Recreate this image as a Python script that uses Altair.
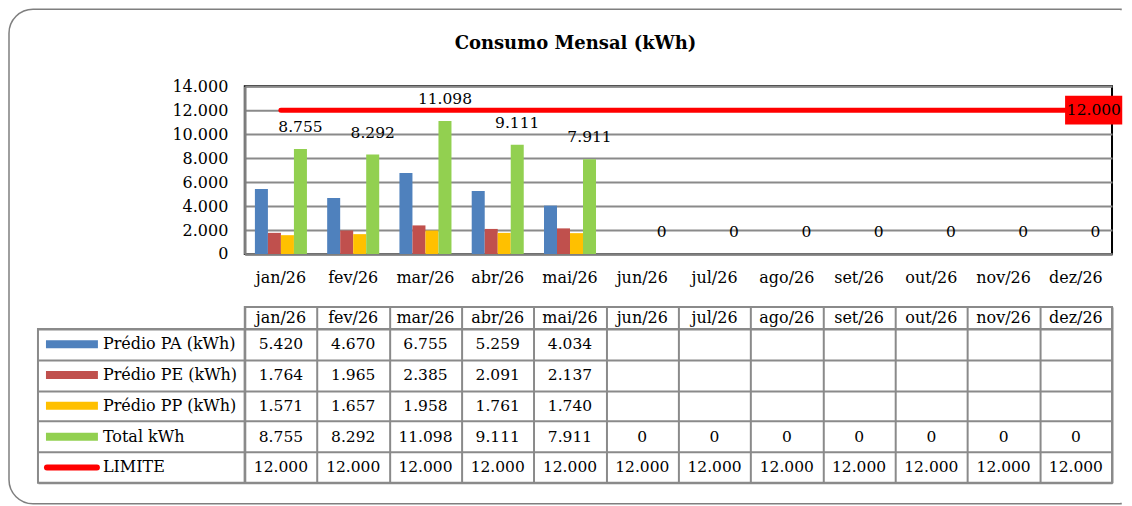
import altair as alt
import pandas as pd

# ---------------- data ----------------
months = ["jan/26", "fev/26", "mar/26", "abr/26", "mai/26", "jun/26",
          "jul/26", "ago/26", "set/26", "out/26", "nov/26", "dez/26"]
predio_pa = [5420, 4670, 6755, 5259, 4034, None, None, None, None, None, None, None]
predio_pe = [1764, 1965, 2385, 2091, 2137, None, None, None, None, None, None, None]
predio_pp = [1571, 1657, 1958, 1761, 1740, None, None, None, None, None, None, None]
total_kwh = [8755, 8292, 11098, 9111, 7911, 0, 0, 0, 0, 0, 0, 0]
limite = [12000, 12000, 12000, 12000, 12000, 12000, 12000, 12000, 12000, 12000, 12000, 12000]
series = ["Prédio PA (kWh)", "Prédio PE (kWh)", "Prédio PP (kWh)", "Total kWh", "LIMITE"]
colors = ["#4F81BD", "#C0504D", "#FFC000", "#92D050", "#FF0000"]
y_ticks = [0, 2000, 4000, 6000, 8000, 10000, 12000, 14000]
title_text = "Consumo Mensal (kWh)"

FONT = "DejaVu Serif"
GRID = "#8a8a8a"
DOMAIN = "#7f7f7f"


def br(v):
    return "" if v is None else f"{v:,}".replace(",", ".")


values_by_series = [predio_pa, predio_pe, predio_pp, total_kwh, limite]
rows = []
for s, vals in zip(series, values_by_series):
    for i, m in enumerate(months):
        rows.append({"mes": m, "serie": s, "valor": vals[i], "rotulo": br(vals[i])})
long_df = pd.DataFrame(rows)

bars_df = long_df[long_df["serie"].isin(series[:4]) & long_df["valor"].notna()]
total_df = long_df[long_df["serie"] == "Total kWh"]
lim_df = long_df[long_df["serie"] == "LIMITE"]
lim_last = lim_df[lim_df["mes"] == months[-1]]
header_df = pd.DataFrame({"mes": months})
legend_df = pd.DataFrame({"serie": series})

# ---------------- chart panel ----------------
W, H = 868, 168
x_chart = alt.X("mes:N",
                scale=alt.Scale(type="band", domain=months, paddingInner=0.28, paddingOuter=0.14),
                axis=alt.Axis(title=None, labelFont=FONT, labelFontSize=16, labelColor="#000000",
                              labelAngle=0, ticks=False, domainColor=DOMAIN, domainWidth=2.5,
                              labelPadding=16, grid=False, labelOverlap=False))
y_chart = alt.Y("valor:Q",
                scale=alt.Scale(domain=[0, 14000], nice=False, zero=True),
                axis=alt.Axis(title=None, values=y_ticks, tickCount=len(y_ticks) + 2,
                              labelOverlap=False,
                              labelExpr="replace(format(datum.value, ','), ',', '.')",
                              labelFont=FONT, labelFontSize=16, labelColor="#000000",
                              ticks=False, labelPadding=17, grid=True, gridColor=GRID,
                              gridWidth=2, domainColor=DOMAIN, domainWidth=2.5))
offset = alt.XOffset("serie:N", sort=series[:4],
                     scale=alt.Scale(domain=series[:4], paddingInner=0, paddingOuter=0))
color = alt.Color("serie:N", scale=alt.Scale(domain=series, range=colors), legend=None)

bars = alt.Chart(bars_df).mark_bar().encode(x=x_chart, xOffset=offset, y=y_chart, color=color)
tot_labels = alt.Chart(total_df).mark_text(dy=-22, font=FONT, fontSize=15.5, color="#000000").encode(
    x=alt.X("mes:N"), xOffset=offset, y=alt.Y("valor:Q"), text="rotulo:N")
lim_line = alt.Chart(lim_df).mark_line(color="#FF0000", strokeWidth=5, strokeCap="round").encode(
    x=alt.X("mes:N"), y=alt.Y("valor:Q"))
box_path = "M-0.745,-1L3.2,-1L3.2,1L-0.745,1Z"
lim_box = alt.Chart(lim_last).mark_point(shape=box_path, size=841, filled=True, color="#FF0000",
                                         opacity=1, strokeWidth=0).encode(
    x=alt.X("mes:N"), y=alt.Y("valor:Q"))
lim_text = alt.Chart(lim_last).mark_text(dx=18, font=FONT, fontSize=15.5, color="#000000").encode(
    x=alt.X("mes:N"), y=alt.Y("valor:Q"), text="rotulo:N")

chart = alt.layer(bars, lim_line, tot_labels, lim_box, lim_text).properties(
    width=W, height=H,
    title=alt.TitleParams(title_text, font=FONT, fontSize=18, fontWeight="bold", color="#000000",
                          anchor="middle", frame="group", dx=-103, offset=25),
    view=alt.ViewBackground(stroke="#000000", strokeWidth=2))

# ---------------- table ----------------
x_tab = alt.X("mes:N",
              scale=alt.Scale(type="band", domain=months, paddingInner=0, paddingOuter=0),
              axis=alt.Axis(title=None, labels=False, ticks=False, domain=False, grid=True,
                            tickBand="extent", gridColor=GRID, gridWidth=2))
y_tab = alt.Y("serie:N",
              scale=alt.Scale(type="band", domain=series, paddingInner=0, paddingOuter=0),
              axis=alt.Axis(title=None, labels=False, ticks=False, domain=False, grid=True,
                            tickBand="extent", gridColor=GRID, gridWidth=2))
cell_view = alt.ViewBackground(stroke=GRID, strokeWidth=2)
no_view = alt.ViewBackground(strokeOpacity=0)

header = alt.Chart(header_df).mark_text(font=FONT, fontSize=16, color="#000000").encode(
    x=x_tab, text="mes:N").properties(width=W, height=22, view=cell_view)

body = alt.Chart(long_df).mark_text(font=FONT, fontSize=15.5, color="#000000").encode(
    x=x_tab, y=y_tab, text="rotulo:N").properties(width=W, height=154, view=cell_view)

swatches = alt.Chart(legend_df[legend_df["serie"] != "LIMITE"]).mark_rule(
    strokeWidth=8, strokeCap="butt").encode(x=alt.value(8), x2=alt.value(60), y=y_tab, color=color)
lim_swatch = alt.Chart(legend_df[legend_df["serie"] == "LIMITE"]).mark_rule(
    strokeWidth=6, strokeCap="round").encode(x=alt.value(9), x2=alt.value(59), y=y_tab, color=color)
row_names = alt.Chart(legend_df).mark_text(align="left", font=FONT, fontSize=16, color="#000000").encode(
    x=alt.value(65), y=y_tab, text="serie:N")
labels = alt.layer(swatches, lim_swatch, row_names).properties(width=207, height=154, view=cell_view)

# outer rounded frame (decoration) drawn from the top-left spacer cell
frame_df = pd.DataFrame({"k": [0]})
frame = alt.Chart(frame_df).mark_rect(fill="#ffffff", fillOpacity=0, stroke="#7f7f7f", strokeWidth=1.5,
                                      cornerRadiusTopLeft=24, cornerRadiusBottomLeft=24,
                                      cornerRadiusTopRight=0, cornerRadiusBottomRight=0).encode(
    x=alt.value(-29), x2=alt.value(1084), y=alt.value(-77), y2=alt.value(418))
frame_cut = alt.Chart(frame_df).mark_rule(color="#ffffff", strokeWidth=3).encode(
    x=alt.value(1084), y=alt.value(-76), y2=alt.value(417))
blank_top = alt.layer(frame, frame_cut).properties(width=207, height=221, view=no_view)
blank_hdr = alt.Chart(frame_df).mark_text(text="").encode(x=alt.value(0)).properties(
    width=207, height=22, view=no_view)

final = alt.concat(blank_top, chart, blank_hdr, header, labels, body,
                   columns=2, spacing=0, bounds="flush", align="each").resolve_scale(
    x="independent", y="independent").properties(padding=0)

final.save("out.html", embed_options={"renderer": "svg", "actions": False})
